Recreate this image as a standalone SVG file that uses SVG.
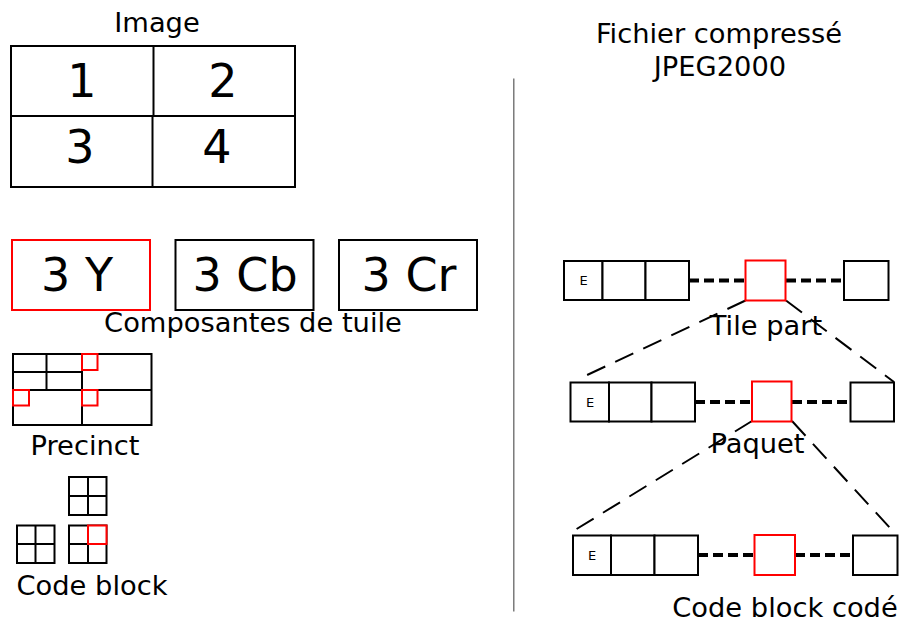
<svg xmlns="http://www.w3.org/2000/svg" width="899" height="623" viewBox="0 0 899 623">
<style>
text{font-family:"DejaVu Sans","Liberation Sans",sans-serif;fill:#000;text-anchor:middle}
.lbl{font-size:27.3px}
.big{font-size:46px}
.e{font-size:13px}
.b{fill:#fff;stroke:#000;stroke-width:2}
.r{fill:#fff;stroke:#f00;stroke-width:2}
.l{stroke:#000;stroke-width:2;fill:none}
.dot{stroke:#000;stroke-width:4;stroke-dasharray:10,5;fill:none}
.dash{stroke:#000;stroke-width:2;stroke-dasharray:20,11;fill:none}
</style>
<rect width="899" height="623" fill="#fff"/>
<g id="image">
<text class="lbl" x="157" y="32">Image</text>
<rect class="b" x="11" y="46" width="284" height="141"/>
<line class="l" x1="153.5" y1="46" x2="153.5" y2="116"/>
<line class="l" x1="152.5" y1="116" x2="152.5" y2="187"/>
<line class="l" x1="11" y1="116" x2="295" y2="116"/>
<text class="big" x="82" y="97">1</text>
<text class="big" x="223" y="97">2</text>
<text class="big" x="80" y="163">3</text>
<text class="big" x="217" y="163">4</text>
</g>
<g id="components">
<rect class="r" x="12" y="240" width="138" height="70"/>
<rect class="b" x="175.5" y="240" width="138" height="70"/>
<rect class="b" x="339" y="240" width="138" height="70"/>
<text class="big" x="77" y="291">3 Y</text>
<text class="big" x="245" y="291">3 Cb</text>
<text class="big" x="409" y="291">3 Cr</text>
<text class="lbl" x="253" y="332">Composantes de tuile</text>
</g>
<g id="precinct">
<rect class="b" x="13" y="354" width="138.5" height="71"/>
<line class="l" x1="46.5" y1="354" x2="46.5" y2="390"/>
<line class="l" x1="82" y1="354" x2="82" y2="425"/>
<line class="l" x1="13" y1="372" x2="82" y2="372"/>
<line class="l" x1="13" y1="390" x2="151.5" y2="390"/>
<rect class="r" x="82" y="354" width="15.5" height="16" fill="none"/>
<rect class="r" x="13" y="390" width="16" height="15.5" fill="none"/>
<rect class="r" x="82" y="390" width="15.5" height="15.5" fill="none"/>
<text class="lbl" x="85" y="455">Precinct</text>
</g>
<g id="codeblock">
<rect class="b" x="69" y="477" width="37.5" height="38"/>
<line class="l" x1="88" y1="477" x2="88" y2="515"/>
<line class="l" x1="69" y1="496" x2="106.5" y2="496"/>
<rect class="b" x="17" y="525.5" width="37.5" height="37.5"/>
<line class="l" x1="35.5" y1="525.5" x2="35.5" y2="563"/>
<line class="l" x1="17" y1="544" x2="54.5" y2="544"/>
<rect class="b" x="69" y="525.5" width="37.5" height="37.5"/>
<line class="l" x1="88" y1="525.5" x2="88" y2="563"/>
<line class="l" x1="69" y1="544" x2="106.5" y2="544"/>
<rect class="r" x="88" y="525.5" width="18.5" height="18.5" fill="none"/>
<text class="lbl" x="92" y="595">Code block</text>
</g>
<line id="separator" x1="513.8" y1="78.5" x2="513.8" y2="611.5" stroke="#666" stroke-width="1.3"/>
<g id="title">
<text class="lbl" x="719" y="43">Fichier compressé</text>
<text class="lbl" x="720" y="76">JPEG2000</text>
</g>
<g id="connectors">
<line class="dot" x1="689" y1="280.5" x2="746" y2="280.5"/>
<line class="dot" x1="786" y1="280.5" x2="844" y2="280.5"/>
<line class="dot" x1="695" y1="402" x2="752" y2="402"/>
<line class="dot" x1="792" y1="402" x2="850" y2="402"/>
<line class="dot" x1="698" y1="555" x2="754" y2="555"/>
<line class="dot" x1="795" y1="555" x2="853" y2="555"/>
<line class="dash" x1="745.5" y1="300.5" x2="585" y2="376"/>
<line class="dash" x1="786" y1="300.5" x2="894" y2="382"/>
<line class="dash" x1="752" y1="421" x2="575" y2="530"/>
<line class="dash" x1="792" y1="421" x2="890" y2="528"/>
</g>
<g id="tilepart">
<rect class="b" x="564" y="261" width="38.5" height="39"/>
<rect class="b" x="602.5" y="261" width="43" height="39"/>
<rect class="b" x="645.5" y="261" width="43.5" height="39"/>
<text class="e" x="583.5" y="285">E</text>
<rect class="r" x="745.5" y="260.5" width="40" height="40"/>
<rect class="b" x="844" y="261" width="44.5" height="39"/>
<text class="lbl" x="766" y="335">Tile part</text>
</g>
<g id="paquet">
<rect class="b" x="570.5" y="382.5" width="38.5" height="39"/>
<rect class="b" x="609" y="382.5" width="42.5" height="39"/>
<rect class="b" x="651.5" y="382.5" width="43.5" height="39"/>
<text class="e" x="590" y="406.5">E</text>
<rect class="r" x="752" y="381.5" width="39.5" height="40"/>
<rect class="b" x="850.5" y="382.5" width="43.5" height="39"/>
<text class="lbl" x="757.5" y="453">Paquet</text>
</g>
<g id="codeblockcode">
<rect class="b" x="573" y="535.5" width="38" height="39.5"/>
<rect class="b" x="611" y="535.5" width="43.5" height="39.5"/>
<rect class="b" x="654.5" y="535.5" width="43.5" height="39.5"/>
<text class="e" x="592" y="560">E</text>
<rect class="r" x="754.5" y="535" width="40.5" height="40"/>
<rect class="b" x="853" y="535.5" width="44.5" height="39.5"/>
<text class="lbl" x="785" y="617">Code block codé</text>
</g>
</svg>
